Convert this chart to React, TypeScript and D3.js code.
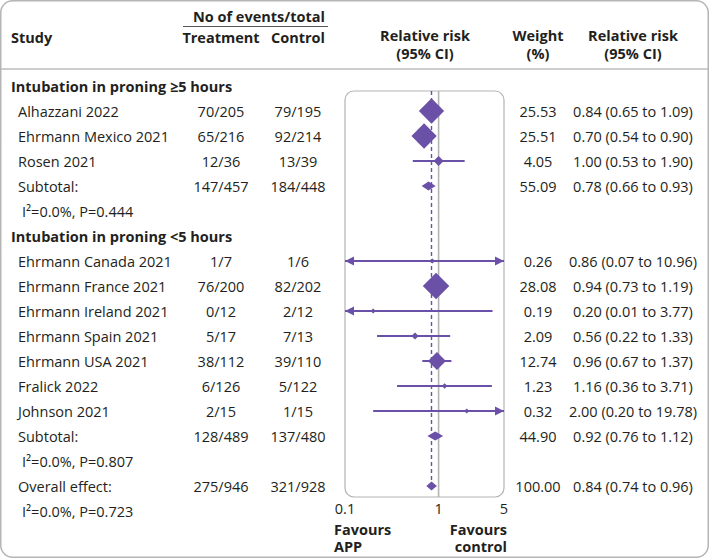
import * as d3 from "d3";
import React from "react";

const groupLabels = ["Intubation in proning ≥5 hours", "Intubation in proning <5 hours"];
const studyNames = [
  "Alhazzani 2022",
  "Ehrmann Mexico 2021",
  "Rosen 2021",
  "Ehrmann Canada 2021",
  "Ehrmann France 2021",
  "Ehrmann Ireland 2021",
  "Ehrmann Spain 2021",
  "Ehrmann USA 2021",
  "Fralick 2022",
  "Johnson 2021",
];
const studyGroup = [0, 0, 0, 1, 1, 1, 1, 1, 1, 1];
const studyTreatment = ["70/205", "65/216", "12/36", "1/7", "76/200", "0/12", "5/17", "38/112", "6/126", "2/15"];
const studyControl = ["79/195", "92/214", "13/39", "1/6", "82/202", "2/12", "7/13", "39/110", "5/122", "1/15"];
const studyWeight = [25.53, 25.51, 4.05, 0.26, 28.08, 0.19, 2.09, 12.74, 1.23, 0.32];
const studyRR = [0.84, 0.7, 1.0, 0.86, 0.94, 0.2, 0.56, 0.96, 1.16, 2.0];
const studyLo = [0.65, 0.54, 0.53, 0.07, 0.73, 0.01, 0.22, 0.67, 0.36, 0.2];
const studyHi = [1.09, 0.9, 1.9, 10.96, 1.19, 3.77, 1.33, 1.37, 3.71, 19.78];

const subTreatment = ["147/457", "128/489"];
const subControl = ["184/448", "137/480"];
const subWeight = [55.09, 44.9];
const subRR = [0.78, 0.92];
const subLo = [0.66, 0.76];
const subHi = [0.93, 1.12];
const subHet = ["I²=0.0%, P=0.444", "I²=0.0%, P=0.807"];

const overall = { treatment: "275/946", control: "321/928", weight: 100.0, rr: 0.84, lo: 0.74, hi: 0.96, het: "I²=0.0%, P=0.723" };

const axisTicks = [0.1, 1, 5];

const W = 709;
const H = 558;
const PURPLE = "#6a50a7";
const TEXT = "#231f20";
const GRID = "#b3b3b3";
const FONT = "'Open Sans', sans-serif";

type Row =
  | { kind: "group"; label: string }
  | { kind: "study"; i: number }
  | { kind: "sub"; g: number }
  | { kind: "het"; text: string }
  | { kind: "overall" };

export default function App() {
  // build row list
  const rows: Row[] = [];
  groupLabels.forEach((label, g) => {
    rows.push({ kind: "group", label });
    studyNames.forEach((_, i) => {
      if (studyGroup[i] === g) rows.push({ kind: "study", i });
    });
    rows.push({ kind: "sub", g });
    rows.push({ kind: "het", text: subHet[g] });
  });
  rows.push({ kind: "overall" });
  rows.push({ kind: "het", text: overall.het });

  const y = d3.scaleLinear().domain([0, rows.length - 1]).range([86, 511]);
  const x = d3.scaleLog().domain([0.1, 5]).range([345, 504]);
  const [x0, x1] = x.range();
  const panelTop = 91;
  const panelBottom = 497;

  const colTreat = 221;
  const colCtrl = 298;
  const colWeight = 538;
  const colCI = 633;

  const fmt = (v: number) => v.toFixed(2);
  const ciText = (r: number, l: number, h: number) => `${fmt(r)} (${fmt(l)} to ${fmt(h)})`;

  const diamond = (cx: number, cy: number, half: number) =>
    `M${cx - half},${cy}L${cx},${cy - half}L${cx + half},${cy}L${cx},${cy + half}Z`;
  const summary = (r: number, l: number, h: number, cy: number, half = 4.5) =>
    `M${x(l)},${cy}L${x(r)},${cy - half}L${x(h)},${cy}L${x(r)},${cy + half}Z`;

  const arrow = (tipX: number, cy: number, dir: number) =>
    `M${tipX},${cy}L${tipX - dir * 9},${cy - 4.5}L${tipX - dir * 9},${cy + 4.5}Z`;

  const overallIdx = rows.findIndex((r) => r.kind === "overall");

  const textProps = { fontFamily: FONT, fontSize: 14.5, fill: TEXT, dominantBaseline: "central" as const };

  return (
    <svg width={W} height={H} style={{ position: "absolute", left: 0, top: 0 }}>
      <rect x={0.75} y={0.75} width={W - 1.5} height={H - 1.5} rx={12} fill="#fff" stroke="#b5b5b5" strokeWidth={1.5} />
      <line x1={1} x2={W - 1} y1={69} y2={69} stroke="#bdbdbd" strokeWidth={1.5} />

      {/* header */}
      <g {...textProps} fontWeight={700}>
        <text x={colTreat + 38} y={16} textAnchor="middle">No of events/total</text>
        <line x1={183} x2={328} y1={26.5} y2={26.5} stroke="#555" strokeWidth={1.2} />
        <text x={11} y={37}>Study</text>
        <text x={colTreat} y={37} textAnchor="middle">Treatment</text>
        <text x={colCtrl} y={37} textAnchor="middle">Control</text>
        <text x={425} y={35} textAnchor="middle">Relative risk</text>
        <text x={425} y={53} textAnchor="middle">(95% CI)</text>
        <text x={colWeight} y={35} textAnchor="middle">Weight</text>
        <text x={colWeight} y={53} textAnchor="middle">(%)</text>
        <text x={colCI} y={35} textAnchor="middle">Relative risk</text>
        <text x={colCI} y={53} textAnchor="middle">(95% CI)</text>
      </g>

      {/* plot panel */}
      <rect x={x0} y={panelTop} width={x1 - x0} height={panelBottom - panelTop} rx={9} fill="none" stroke={GRID} strokeWidth={1.2} />
      <line x1={x(1)} x2={x(1)} y1={panelTop} y2={panelBottom} stroke={GRID} strokeWidth={1.6} />
      <line
        x1={x(overall.rr)}
        x2={x(overall.rr)}
        y1={panelTop}
        y2={y(overallIdx)}
        stroke={PURPLE}
        strokeWidth={1.4}
        strokeDasharray="4,3"
      />

      {rows.map((r, k) => {
        const cy = y(k);
        if (r.kind === "group") {
          return (
            <text key={k} x={11} y={cy} {...textProps} fontWeight={700}>
              {r.label}
            </text>
          );
        }
        if (r.kind === "het") {
          return (
            <text key={k} x={22} y={cy} {...textProps}>
              {r.text}
            </text>
          );
        }
        if (r.kind === "study") {
          const i = r.i;
          const lo = Math.max(studyLo[i], 0.1);
          const hi = Math.min(studyHi[i], 5);
          const half = Math.max(2.6, 2.5 * Math.sqrt(studyWeight[i]));
          return (
            <g key={k}>
              <text x={18} y={cy} {...textProps}>{studyNames[i]}</text>
              <text x={colTreat} y={cy} {...textProps} textAnchor="middle">{studyTreatment[i]}</text>
              <text x={colCtrl} y={cy} {...textProps} textAnchor="middle">{studyControl[i]}</text>
              <text x={colWeight} y={cy} {...textProps} textAnchor="middle">{fmt(studyWeight[i])}</text>
              <text x={colCI} y={cy} {...textProps} textAnchor="middle">{ciText(studyRR[i], studyLo[i], studyHi[i])}</text>
              <line x1={x(lo)} x2={x(hi)} y1={cy} y2={cy} stroke={PURPLE} strokeWidth={2} />
              {studyLo[i] < 0.1 && <path d={arrow(x0, cy, -1)} fill={PURPLE} />}
              {studyHi[i] > 5 && <path d={arrow(x1, cy, 1)} fill={PURPLE} />}
              <path d={diamond(x(studyRR[i]), cy, half)} fill={PURPLE} />
            </g>
          );
        }
        if (r.kind === "sub") {
          const g = r.g;
          return (
            <g key={k}>
              <text x={18} y={cy} {...textProps}>Subtotal:</text>
              <text x={colTreat} y={cy} {...textProps} textAnchor="middle">{subTreatment[g]}</text>
              <text x={colCtrl} y={cy} {...textProps} textAnchor="middle">{subControl[g]}</text>
              <text x={colWeight} y={cy} {...textProps} textAnchor="middle">{fmt(subWeight[g])}</text>
              <text x={colCI} y={cy} {...textProps} textAnchor="middle">{ciText(subRR[g], subLo[g], subHi[g])}</text>
              <path d={summary(subRR[g], subLo[g], subHi[g], cy)} fill={PURPLE} />
            </g>
          );
        }
        return (
          <g key={k}>
            <text x={18} y={cy} {...textProps}>Overall effect:</text>
            <text x={colTreat} y={cy} {...textProps} textAnchor="middle">{overall.treatment}</text>
            <text x={colCtrl} y={cy} {...textProps} textAnchor="middle">{overall.control}</text>
            <text x={colWeight} y={cy} {...textProps} textAnchor="middle">{fmt(overall.weight)}</text>
            <text x={colCI} y={cy} {...textProps} textAnchor="middle">{ciText(overall.rr, overall.lo, overall.hi)}</text>
            <path d={summary(overall.rr, overall.lo, overall.hi, cy)} fill={PURPLE} />
          </g>
        );
      })}

      {/* axis tick labels */}
      {axisTicks.map((t) => (
        <text key={t} x={x(t)} y={y(rows.length - 1) - 2.5} {...textProps} textAnchor="middle">
          {d3.format("~g")(t)}
        </text>
      ))}
      <g {...textProps} fontWeight={700}>
        <text x={334} y={529}>Favours</text>
        <text x={334} y={546.5}>APP</text>
        <text x={507} y={529} textAnchor="end">Favours</text>
        <text x={507} y={546.5} textAnchor="end">control</text>
      </g>
    </svg>
  );
}
